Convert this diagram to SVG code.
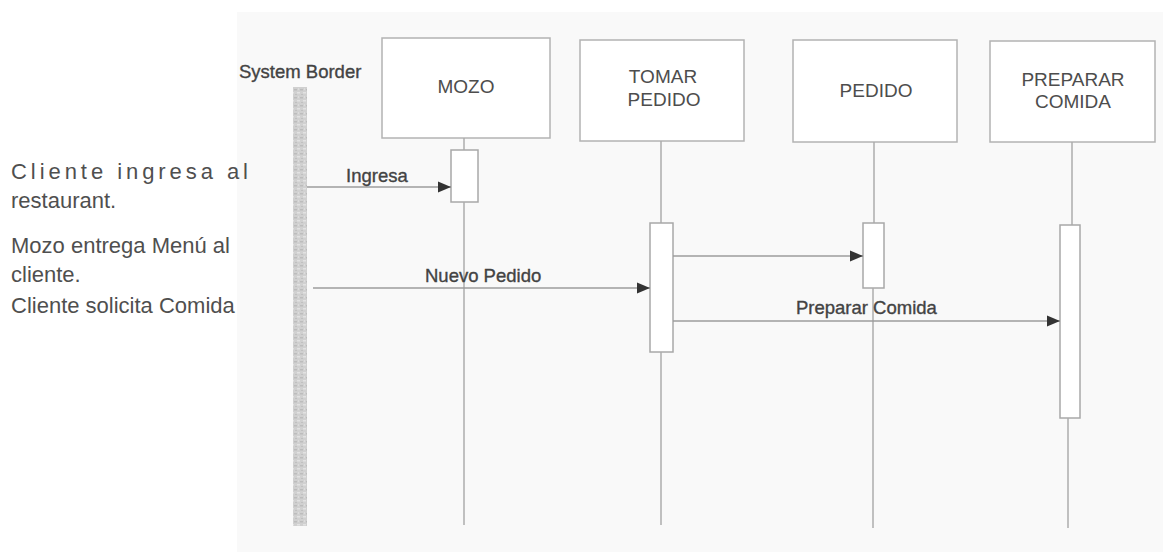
<svg xmlns="http://www.w3.org/2000/svg" width="1163" height="552" viewBox="0 0 1163 552">
  <style>
    .obj { fill: #ffffff; stroke: #b3b3b3; stroke-width: 1.5; }
    .act { fill: #ffffff; stroke: #a8a8a8; stroke-width: 1.5; }
    .life { stroke: #adadad; stroke-width: 1.5; fill: none; }
    .msg { stroke: #9c9c9c; stroke-width: 1.5; fill: none; }
    .objlbl { font-family: "Liberation Sans", Arial, sans-serif; font-size: 19px; fill: #4d4d4d; text-anchor: middle; }
    .msglbl { font-family: "Liberation Sans", Arial, sans-serif; font-size: 18.5px; fill: #434343; stroke: #434343; stroke-width: 0.35; }
    .note { font-family: "Liberation Sans", Arial, sans-serif; font-size: 22px; fill: #4f4f4f; }
  </style>
  <defs>
    <marker id="arrow" markerUnits="userSpaceOnUse" markerWidth="14" markerHeight="12" refX="13" refY="6" orient="auto">
      <path d="M0,0.5 L13,6 L0,11.5 Z" fill="#333333"/>
    </marker>
    <pattern id="grain" width="6" height="8" patternUnits="userSpaceOnUse">
      <rect width="6" height="8" fill="#d0d0d0"/>
      <rect x="0" y="1" width="3" height="1.5" fill="#bcbcbc"/>
      <rect x="3" y="4" width="3" height="1.5" fill="#e2e2e2"/>
      <rect x="1" y="6" width="2" height="1" fill="#c0c0c0"/>
      <rect x="4" y="0" width="1" height="2" fill="#dcdcdc"/>
    </pattern>
  </defs>

  <!-- page background -->
  <rect x="0" y="0" width="1163" height="552" fill="#ffffff"/>
  <rect x="237" y="12" width="926" height="540" fill="#f9f9f9"/>

  <!-- description column -->
  <g id="notes">
    <text class="note" x="11" y="179" textLength="237" lengthAdjust="spacing">Cliente ingresa al</text>
    <text class="note" x="11" y="208">restaurant.</text>
    <text class="note" x="11" y="253">Mozo entrega Menú al</text>
    <text class="note" x="11" y="282">cliente.</text>
    <text class="note" x="11" y="313">Cliente solicita Comida</text>
  </g>

  <!-- system border -->
  <g id="system-border">
    <rect x="293" y="87" width="14" height="439" fill="url(#grain)"/>
    <text class="msglbl" x="239" y="78">System Border</text>
  </g>

  <!-- lifelines -->
  <g id="mozo">
    <rect class="obj" x="382" y="38" width="168" height="100"/>
    <text class="objlbl" x="466" y="93">MOZO</text>
    <line class="life" x1="464" y1="138" x2="464" y2="150"/>
    <rect class="act" x="451" y="150" width="27" height="52"/>
    <line class="life" x1="464" y1="202" x2="464" y2="525"/>
  </g>

  <g id="tomar-pedido">
    <rect class="obj" x="580" y="40" width="164" height="101"/>
    <text class="objlbl" x="663" y="83">TOMAR</text>
    <text class="objlbl" x="664" y="106">PEDIDO</text>
    <line class="life" x1="661" y1="141" x2="661" y2="223"/>
    <rect class="act" x="650" y="223" width="23" height="129"/>
    <line class="life" x1="661" y1="352" x2="661" y2="525"/>
  </g>

  <g id="pedido">
    <rect class="obj" x="793" y="40" width="164" height="102"/>
    <text class="objlbl" x="876" y="97">PEDIDO</text>
    <line class="life" x1="874" y1="142" x2="874" y2="223"/>
    <rect class="act" x="863" y="223" width="21" height="65"/>
    <line class="life" x1="873" y1="288" x2="873" y2="528"/>
  </g>

  <g id="preparar-comida">
    <rect class="obj" x="990" y="41" width="165" height="101"/>
    <text class="objlbl" x="1073" y="86">PREPARAR</text>
    <text class="objlbl" x="1073" y="108">COMIDA</text>
    <line class="life" x1="1072" y1="142" x2="1072" y2="225"/>
    <rect class="act" x="1060" y="225" width="20" height="193"/>
    <line class="life" x1="1068" y1="418" x2="1068" y2="528"/>
  </g>

  <!-- messages -->
  <g id="messages">
    <line class="msg" x1="307" y1="187" x2="451" y2="187" marker-end="url(#arrow)"/>
    <text class="msglbl" x="346" y="182">Ingresa</text>

    <line class="msg" x1="313" y1="288" x2="650" y2="288" marker-end="url(#arrow)"/>
    <text class="msglbl" x="425" y="282">Nuevo Pedido</text>

    <line class="msg" x1="673" y1="256" x2="863" y2="256" marker-end="url(#arrow)"/>

    <line class="msg" x1="673" y1="321" x2="1060" y2="321" marker-end="url(#arrow)"/>
    <text class="msglbl" x="796" y="314">Preparar Comida</text>
  </g>
</svg>
